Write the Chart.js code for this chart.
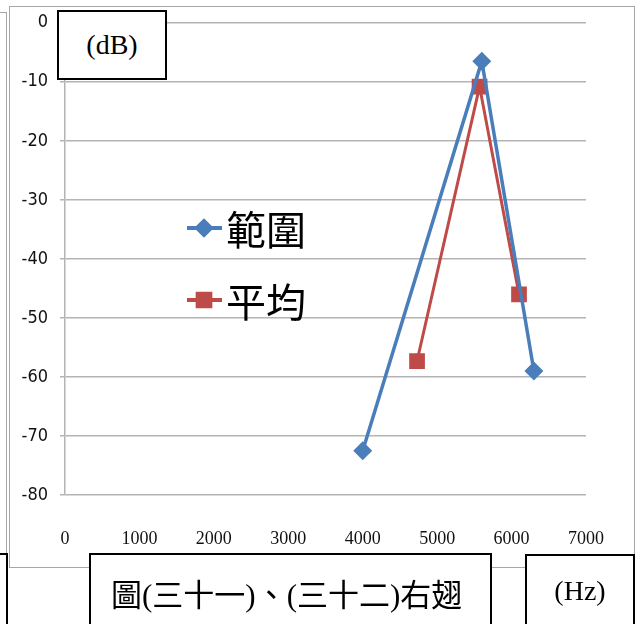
<!DOCTYPE html>
<html>
<head>
<meta charset="utf-8">
<script src="https://cdn.jsdelivr.net/npm/chart.js@4.4.0/dist/chart.umd.min.js"></script>
<style>
  body { margin: 0; background: #fff; overflow: hidden; }
  #wrap { position: relative; width: 635px; height: 624px; }
  #frame { position: absolute; left: 9px; top: 6px; width: 624px; height: 560px; border: 1px solid #a6a6a6; }
  #frame2 { position: absolute; left: 0; top: 12px; width: 6px; height: 560px; border: 1px solid #a6a6a6; border-left: none; }
  .box { position: absolute; background: #fff; border: 2px solid #000; box-sizing: border-box;
         font-family: 'Liberation Serif', 'Times New Roman', serif; color: #000; }
  #dB { left: 57px; top: 10px; width: 110px; height: 70px; font-size: 28px; line-height: 66px; text-align: center; }
  #cap { left: 89px; top: 553px; width: 403px; height: 90px; font-size: 31px; padding: 15px 0 0 20px;
         font-family: 'Liberation Serif', 'Noto Sans CJK TC', serif; white-space: nowrap; }
  #hz { left: 525px; top: 554px; width: 110px; height: 90px; font-size: 28px; padding-top: 19px; text-align: center; }
  #lb { left: -4px; top: 553px; width: 12px; height: 90px; }
  canvas { position: absolute; left: 0; top: 0; }
</style>
</head>
<body>
<div id="wrap">
  <div id="frame"></div>
  <div id="frame2"></div>
  <canvas id="myChart" width="635" height="624"></canvas>
  <div class="box" id="dB">(dB)</div>
  <div class="box" id="lb"></div>
  <div class="box" id="cap">圖(三十一)、(三十二)右翅</div>
  <div class="box" id="hz">(Hz)</div>
</div>
<script>
// 데이터
const seriesNames = ['範圍', '平均'];
const rangeX = [4000, 5600, 6300];
const rangeY = [-72.5, -6.5, -59];
const avgX = [4730, 5570, 6100];
const avgY = [-57.3, -10.8, -46];
const xTicks = [0, 1000, 2000, 3000, 4000, 5000, 6000, 7000];
const yTicks = [0, -10, -20, -30, -40, -50, -60, -70, -80];

const blue = '#4a7ebb';
const red = '#be4b48';

function toPoints(xs, ys) {
  return xs.map((x, i) => ({ x: x, y: ys[i] }));
}

// 차트 안에 범례를 그리는 플러그인
const innerLegend = {
  id: 'innerLegend',
  afterDatasetsDraw(chart) {
    const ctx = chart.ctx;
    const rows = [228, 300];
    chart.data.datasets.forEach((ds, i) => {
      const y = rows[i];
      ctx.save();
      ctx.strokeStyle = ds.borderColor;
      ctx.lineWidth = 4;
      ctx.beginPath();
      ctx.moveTo(187, y);
      ctx.lineTo(222, y);
      ctx.stroke();
      Chart.helpers.drawPoint(ctx, {
        pointStyle: ds.pointStyle, radius: ds.pointRadius, borderWidth: 1
      }, 204, y);
      ctx.fillStyle = ds.backgroundColor;
      ctx.fill();
      ctx.fillStyle = '#000';
      ctx.font = '40px "Noto Sans CJK TC"';
      ctx.textBaseline = 'middle';
      ctx.fillText(ds.label, 226, y + 2);
      ctx.restore();
    });
  }
};

const ctx = document.getElementById('myChart').getContext('2d');
new Chart(ctx, {
  type: 'line',
  data: {
    datasets: [
      {
        label: seriesNames[0],
        data: toPoints(rangeX, rangeY),
        borderColor: blue,
        backgroundColor: blue,
        borderWidth: 3.5,
        pointStyle: 'rectRot',
        pointRadius: 7,
        pointHoverRadius: 7
      },
      {
        label: seriesNames[1],
        data: toPoints(avgX, avgY),
        borderColor: red,
        backgroundColor: red,
        borderWidth: 3,
        pointStyle: 'rect',
        pointRadius: 9,
        pointHoverRadius: 9
      }
    ]
  },
  options: {
    responsive: false,
    animation: false,
    layout: { padding: { left: 10, right: 49, top: 22, bottom: 69 } },
    plugins: { legend: { display: false }, tooltip: { enabled: false } },
    scales: {
      x: {
        type: 'linear',
        min: 0,
        max: 7000,
        afterBuildTicks: (scale) => { scale.ticks = xTicks.map(v => ({ value: v })); },
        afterFit: (scale) => { scale.height = 60; },
        grid: { display: false },
        border: { display: false },
        ticks: {
          padding: 25,
          color: '#111',
          maxRotation: 0,
          callback: (v) => String(v),
          font: { family: '"Liberation Serif", serif', size: 18 }
        }
      },
      y: {
        min: -80,
        max: 0,
        afterBuildTicks: (scale) => { scale.ticks = yTicks.map(v => ({ value: v })); },
        afterFit: (scale) => { scale.width = 55; },
        grid: { color: '#b4b4b4', lineWidth: 1.5, tickLength: 5 },
        border: { display: true, color: '#b4b4b4', width: 1.5 },
        ticks: {
          padding: 12,
          color: '#111',
          font: { family: '"Liberation Sans Narrow", "DejaVu Sans Condensed", sans-serif', size: 18 }
        }
      }
    }
  },
  plugins: [innerLegend]
});
</script>
</body>
</html>
